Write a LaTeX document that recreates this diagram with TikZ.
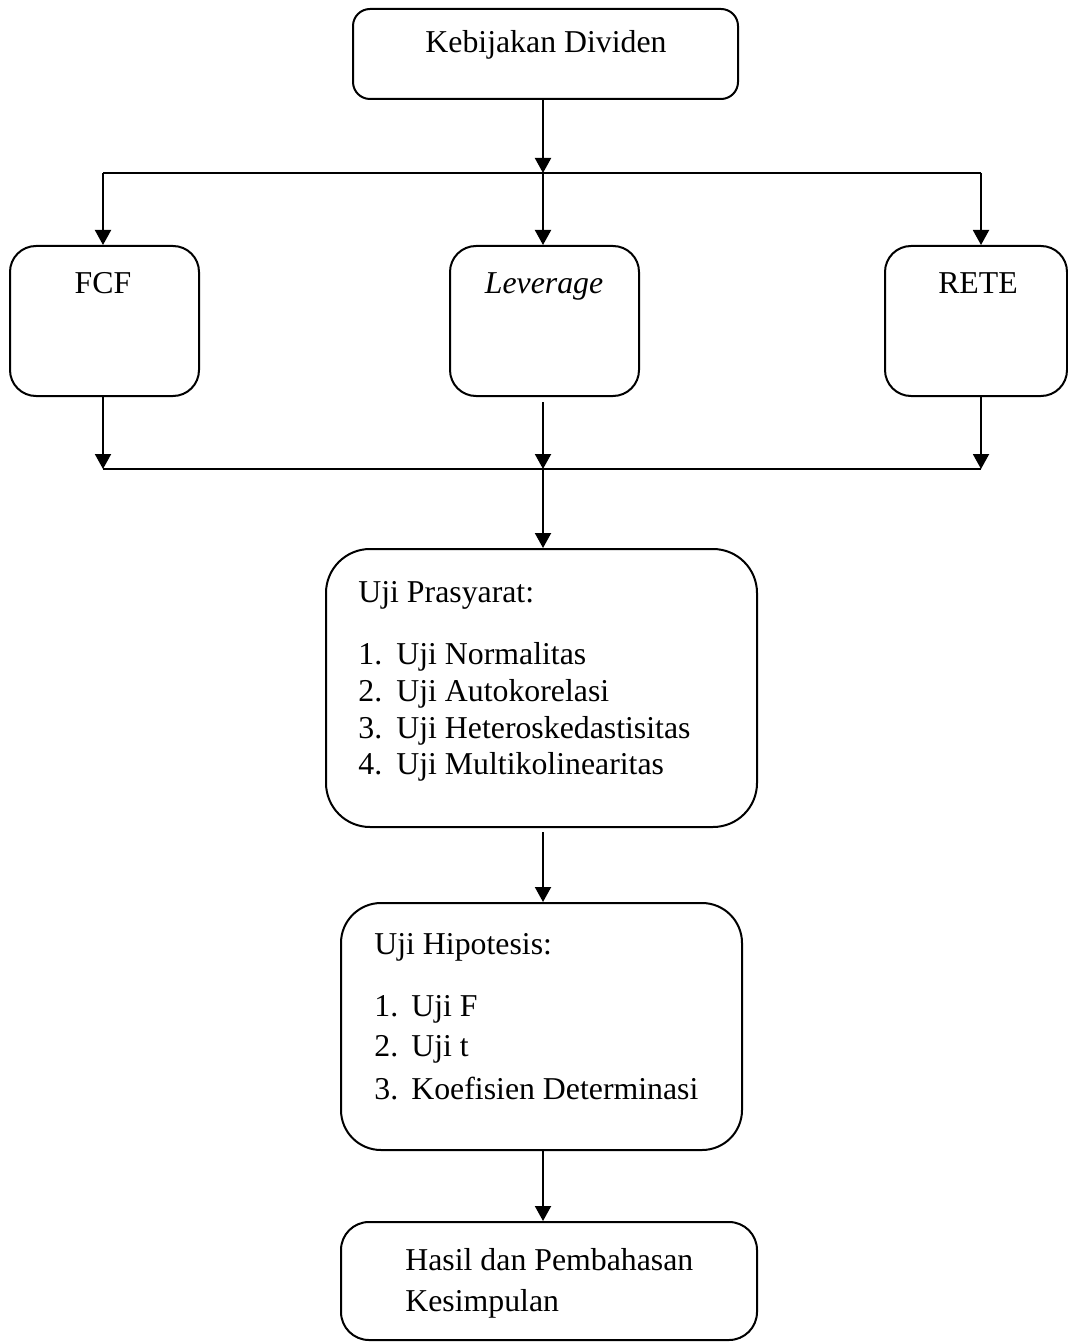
\documentclass[tikz,border=0pt]{standalone}
\usepackage{fontspec}
\setmainfont{Liberation Serif}
\usetikzlibrary{arrows.meta}
\tikzset{
  box/.style={draw, line width=1pt, inner sep=0pt, rectangle},
  txt/.style={inner sep=0pt, font=\fontsize{15.9}{18.35}\selectfont},
  ln/.style={line width=1pt},
  arr/.style={line width=1pt, -{Triangle[length=7.5pt,width=8pt]}}
}
\newcommand{\itm}[2]{\makebox[#1][l]{#2}}
\begin{document}
\begin{tikzpicture}[x=0.5pt,y=-0.5pt]
\useasboundingbox[fill=white] (0,0) rectangle (1068,1342);
% boxes
\node[box, rounded corners=8.5pt, minimum width=192.5pt, minimum height=45pt] (top) at (545.5,54) {};
\node[box, rounded corners=13pt, minimum width=94.5pt, minimum height=75pt] (fcf) at (104.5,321) {};
\node[box, rounded corners=13pt, minimum width=94.5pt, minimum height=75pt] (lev) at (544.5,321) {};
\node[box, rounded corners=13pt, minimum width=91pt, minimum height=75pt] (rete) at (976,321) {};
\node[box, rounded corners=22pt, minimum width=215.5pt, minimum height=139pt] (pras) at (541.5,688) {};
\node[box, rounded corners=20pt, minimum width=200.5pt, minimum height=123.5pt] (hip) at (541.5,1026.5) {};
\node[box, rounded corners=14pt, minimum width=208pt, minimum height=59pt] (res) at (549,1281) {};
% texts
\node[txt, anchor=base] (topT) at (546,53) {Kebijakan Dividen};
\node[txt, anchor=base] (fcfT) at (103,293) {FCF};
\node[txt, anchor=base] (levT) at (544,293) {\textit{Leverage}};
\node[txt, anchor=base] (reteT) at (978,293) {RETE};
\node[txt, anchor=base west] (prasT) at (358,602) {\begin{tabular}[t]{@{}l@{}}
Uji Prasyarat:\\[12.65pt]
\itm{19pt}{1.}Uji Normalitas\\[0.15pt]
\itm{19pt}{2.}Uji Autokorelasi\\[0.15pt]
\itm{19pt}{3.}Uji Heteroskedastisitas\\[-0.35pt]
\itm{19pt}{4.}Uji Multikolinearitas
\end{tabular}};
\node[txt, anchor=base west] (hipT) at (374,954) {\begin{tabular}[t]{@{}l@{}}
Uji Hipotesis:\\[12.65pt]
\itm{18.5pt}{1.}Uji F\\[1.65pt]
\itm{18.5pt}{2.}Uji t\\[3.15pt]
\itm{18.5pt}{3.}Koefisien Determinasi
\end{tabular}};
\node[txt, anchor=base west] (resT) at (405,1270) {\begin{tabular}[t]{@{}l@{}}
Hasil dan Pembahasan\\[2.15pt]
Kesimpulan
\end{tabular}};
% bus coordinates
\coordinate (bt) at (543,173);
\coordinate (btl) at (103,173);
\coordinate (btr) at (981,173);
\coordinate (bb) at (543,469);
\coordinate (bbl) at (103,469);
\coordinate (bbr) at (981,469);
% connectors
\draw[arr] (top.south -| bt) -- (bt);
\draw[ln] (btl) -- (btr);
\draw[arr] (btl) -- (btl |- fcf.north);
\draw[arr] (bt) -- (bt |- lev.north);
\draw[arr] (btr) -- (btr |- rete.north);
\draw[arr] (fcf.south -| bbl) -- (bbl);
\draw[arr, shorten <=2.5pt] (lev.south -| bb) -- (bb);
\draw[arr] (rete.south -| bbr) -- (bbr);
\draw[ln] (bbl) -- (bbr);
\draw[arr] (bb) -- (bb |- pras.north);
\draw[arr, shorten <=2pt] (pras.south -| bb) -- (bb |- hip.north);
\draw[arr] (hip.south -| bb) -- (bb |- res.north);
\end{tikzpicture}
\end{document}
